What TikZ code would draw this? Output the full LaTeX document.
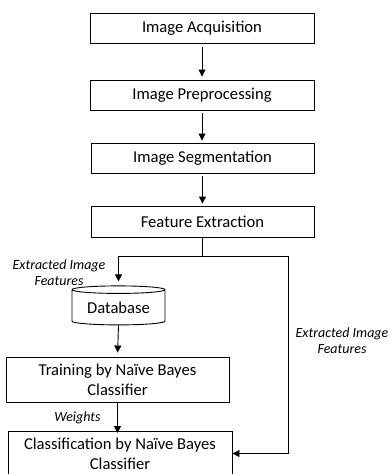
\documentclass[tikz,border=0pt]{standalone}
\usepackage{fontspec}
\setmainfont{Carlito}
\usetikzlibrary{shapes.geometric,arrows.meta}
\begin{document}
\begin{tikzpicture}[x=1pt,y=-1pt,
  box/.style={draw,line width=0.9pt,minimum height=30pt,inner sep=0pt,align=center,font=\fontsize{16.6}{20}\selectfont},
  lbl/.style={align=center,inner sep=0pt,font=\fontsize{14}{16}\selectfont\itshape},
  arr/.style={line width=0.9pt,-{Triangle[length=7pt,width=7pt]}},
  ln/.style={line width=0.9pt}]
\useasboundingbox (0,0) rectangle (389,474);
\node[box,minimum width=224pt] (ia) at (202,28) {Image Acquisition};
\node[box,minimum width=224pt] (ip) at (202,95) {Image Preprocessing};
\node[box,minimum width=223pt] (is) at (202.5,158) {Image Segmentation};
\node[box,minimum width=223pt,minimum height=31pt] (fe) at (202.5,221.5) {Feature Extraction};
\node[draw,line width=0.9pt,cylinder,shape border rotate=90,aspect=0.12,minimum width=93pt,minimum height=39pt,inner sep=0pt,font=\fontsize{16.6}{20}\selectfont] (db) at (118.5,307.5) {\raisebox{-3pt}{Database}};
\node[box,minimum width=223pt,minimum height=45pt] (tr) at (117.5,379.5) {Training by Naïve Bayes\\Classifier};
\node[box,minimum width=224pt,minimum height=45pt,yshift=2pt] (cl) at (120,455.5) {Classification by Naïve Bayes\\Classifier};
\coordinate (j) at (202.5,256);
\coordinate (jl) at (118.5,256);
\coordinate (jr) at (288,256);
\draw[arr,shorten <=4pt,shorten >=3pt] (ia) -- (ip);
\draw[arr,shorten <=3pt,shorten >=2pt] (ip.south) -- (is.north -| ip.south);
\draw[arr,shorten <=3pt,shorten >=2pt] (is) -- (fe);
\draw[ln] (fe.south) -- (j);
\draw[ln] (jl) -- (jr);
\draw[arr,shorten >=4pt] (jl) -- (db.north);
\draw[arr,shorten >=4pt] (db.south) -- (tr.north);
\draw[arr] (tr.south) -- (tr.south |- {(0,433)});
\draw[arr] (jr) |- (cl.east);
\node[lbl] (l1) at (59,273) {Extracted Image\\Features};
\node[lbl] (l2) at (342,341) {Extracted Image\\Features};
\node[lbl] (l3) at (77.5,418) {Weights};
\end{tikzpicture}
\end{document}
